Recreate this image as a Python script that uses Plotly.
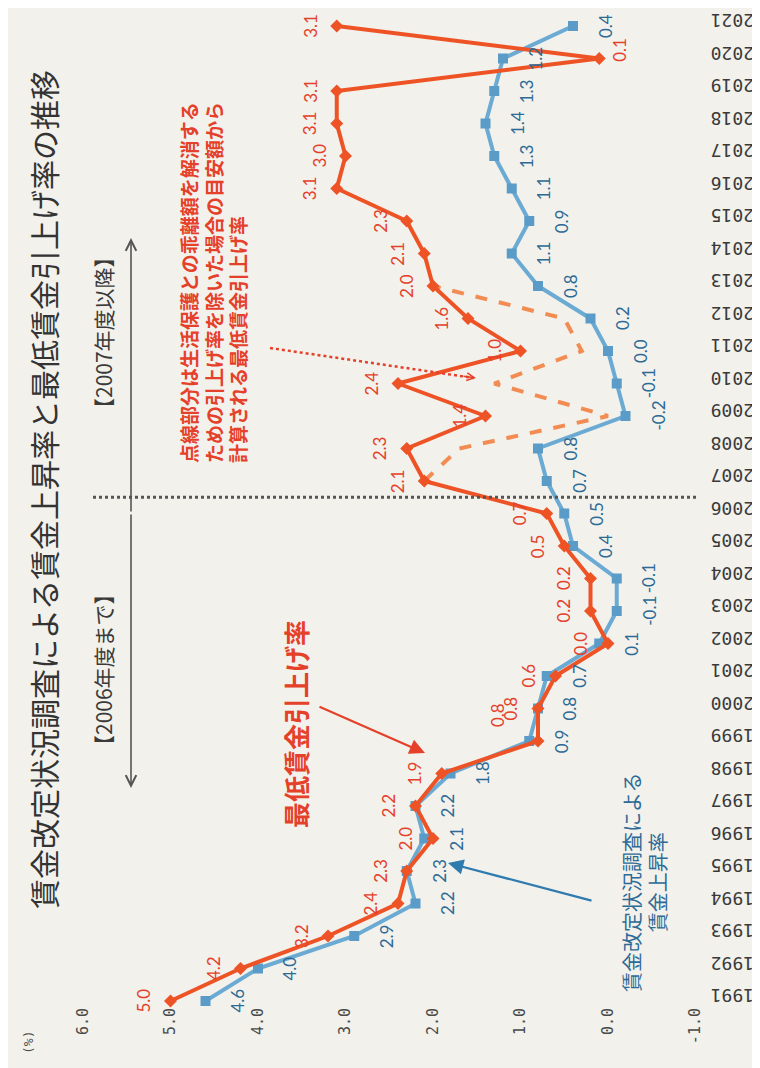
import plotly.graph_objects as go

# ---------------- data ----------------
years = list(range(1991, 2022))
min_wage_rate = [5.0, 4.2, 3.2, 2.4, 2.3, 2.0, 2.2, 1.9, 0.8, 0.8,
                 0.6, 0.0, 0.2, 0.2, 0.5, 0.7, 2.1, 2.3, 1.4, 2.4,
                 1.0, 1.6, 2.0, 2.1, 2.3, 3.1, 3.0, 3.1, 3.1, 0.1, 3.1]
wage_survey_rate = [4.6, 4.0, 2.9, 2.2, 2.3, 2.1, 2.2, 1.8, 0.9, 0.8,
                    0.7, 0.1, -0.1, -0.1, 0.4, 0.5, 0.7, 0.8, -0.2, -0.1,
                    0.0, 0.2, 0.8, 1.1, 0.9, 1.1, 1.3, 1.4, 1.3, 1.2, 0.4]
dashed_years = list(range(2007, 2014))
dashed_rate = [2.1, 1.7, 0.0, 1.3, 0.3, 0.5, 2.0]
x_tick_vals = [6, 5, 4, 3, 2, 1, 0, -1]
x_tick_text = ["6.0", "5.0", "4.0", "3.0", "2.0", "1.0", "0.0", "-1.0"]
year_text = [str(y) for y in years]

title_text = "賃金改定状況調査による賃金上昇率と最低賃金引上げ率の推移"
red_series_name = "最低賃金引上げ率"
blue_series_name = "賃金改定状況調査による<br>賃金上昇率"
note_text = ("点線部分は生活保護との乖離額を解消する<br>"
             "ための引上げ率を除いた場合の目安額から<br>"
             "計算される最低賃金引上げ率")

# ---------------- style ----------------
W, H = 760, 1068
ML, MR, MT, MB = 40, 60, 5, 72
BG = "#F2F1EC"
RED = "#EE5326"
RED_TXT = "#E5412A"
DASH_ORANGE = "#F28C52"
BLUE_LINE = "#6AAAD3"
BLUE_MK = "#5B9BC7"
BLUE_TXT = "#2D6A96"
JP = "Noto Sans CJK JP"
NUM = "Lato"
MONO = "DejaVu Sans Mono"


def px(xp):
    return (xp - ML) / (W - ML - MR)


def py(yp):
    return (H - MB - yp) / (H - MT - MB)


def text_note(xp, yp, text, size, color, weight="normal", align="center",
              family=JP):
    return dict(x=px(xp), y=py(yp), xref="paper", yref="paper", text=text,
                showarrow=False, textangle=-90, align=align,
                xanchor="center", yanchor="middle",
                font=dict(family=family, size=size, color=color,
                          weight=weight))


red_label_shift = {1999: (-41, 26), 2020: (20, 9)}
blue_label_shift = {}

fig = go.Figure()

fig.add_trace(go.Scatter(
    x=wage_survey_rate, y=years, mode="lines+markers",
    line=dict(color=BLUE_LINE, width=4),
    marker=dict(symbol="square", size=10, color=BLUE_MK),
    cliponaxis=False, hoverinfo="skip"))

fig.add_trace(go.Scatter(
    x=dashed_rate, y=dashed_years, mode="lines",
    line=dict(color=DASH_ORANGE, width=4, dash="dash"),
    cliponaxis=False, hoverinfo="skip"))

fig.add_trace(go.Scatter(
    x=min_wage_rate, y=years, mode="lines+markers",
    line=dict(color=RED, width=4),
    marker=dict(symbol="diamond", size=10, color=RED),
    cliponaxis=False, hoverinfo="skip"))

annotations = []

# value labels
for yr, v in zip(years, min_wage_rate):
    dx, dy = red_label_shift.get(yr, (-27, 0))
    annotations.append(dict(
        x=v, y=yr, xref="x", yref="y", text=f"{v:.1f}", showarrow=False,
        textangle=-90, xshift=dx, yshift=dy,
        xanchor="center", yanchor="middle",
        font=dict(family=NUM, size=17, color=RED_TXT)))
for yr, v in zip(years, wage_survey_rate):
    dx, dy = blue_label_shift.get(yr, (32, 0))
    annotations.append(dict(
        x=v, y=yr, xref="x", yref="y", text=f"{v:.1f}", showarrow=False,
        textangle=-90, xshift=dx, yshift=dy,
        xanchor="center", yanchor="middle",
        font=dict(family=NUM, size=17, color=BLUE_TXT)))

# title and texts
annotations.append(text_note(35, 482, title_text, 30, "#333333"))
annotations.append(text_note(20, 1035, "(%)", 13, "#4a4a4a", family=MONO))
annotations.append(text_note(95, 662, "【2006年度まで】", 21, "#3a3a3a"))
annotations.append(text_note(95, 325, "【2007年度以降】", 21, "#3a3a3a"))
annotations.append(text_note(205, 275, note_text, 19, RED_TXT,
                             weight="bold", align="left"))
annotations.append(text_note(287, 716, red_series_name, 26, RED_TXT,
                             weight="bold"))
annotations.append(text_note(636, 875, blue_series_name, 20, BLUE_TXT))

# double arrow
for head_y, ay in ((230, 275), (780, -275)):
    annotations.append(dict(
        x=px(123), y=py(head_y), xref="paper", yref="paper", text="",
        showarrow=True, ax=0, ay=ay, arrowhead=5, arrowsize=1.3,
        arrowwidth=1.6, arrowcolor="#555555"))

# series arrows
annotations.append(dict(
    x=px(417), y=py(745), xref="paper", yref="paper", text="",
    showarrow=True, ax=-107, ay=-47, arrowhead=2, arrowsize=1.4,
    arrowwidth=2.2, arrowcolor=RED_TXT))
annotations.append(dict(
    x=px(440), y=py(855), xref="paper", yref="paper", text="",
    showarrow=True, ax=145, ay=38, arrowhead=2, arrowsize=1.4,
    arrowwidth=2.2, arrowcolor="#2F7BB0"))

# leader arrow head for dotted line
annotations.append(dict(
    x=px(468), y=py(370), xref="paper", yref="paper", text="",
    showarrow=True, ax=-14, ay=-2, arrowhead=5, arrowsize=1.0,
    arrowwidth=1.5, arrowcolor=RED_TXT))

shapes = [
    # divider between 2006 and 2007
    dict(type="line", xref="paper", yref="y", x0=px(85), x1=px(690),
         y0=2006.5, y1=2006.5,
         line=dict(color="#555555", width=3, dash="dot")),
    # dotted leader
    dict(type="line", xref="paper", yref="paper", x0=px(262), y0=py(340),
         x1=px(466), y1=py(370),
         line=dict(color=RED_TXT, width=2.5, dash="dot")),
]

fig.update_layout(
    width=W, height=H,
    margin=dict(l=ML, r=MR, t=MT, b=MB),
    paper_bgcolor=BG, plot_bgcolor=BG,
    showlegend=False,
    annotations=annotations,
    shapes=shapes,
    xaxis=dict(
        range=[6.4, -1.142857], tickvals=x_tick_vals, ticktext=x_tick_text,
        tickangle=-90, ticks="", ticklabelstandoff=0,
        tickfont=dict(family=MONO, size=15, color="#4a4a4a"),
        showgrid=False, zeroline=False, showline=False, automargin=False),
    yaxis=dict(
        range=[1990.908, 2021.4], side="right", tickvals=years,
        ticktext=year_text, tickangle=180, ticks="", ticklabelstandoff=45,
        tickfont=dict(family=MONO, size=18, color="#3a3a3a"),
        showgrid=False, zeroline=False, showline=False, automargin=False),
)

fig.write_html("out.html")
